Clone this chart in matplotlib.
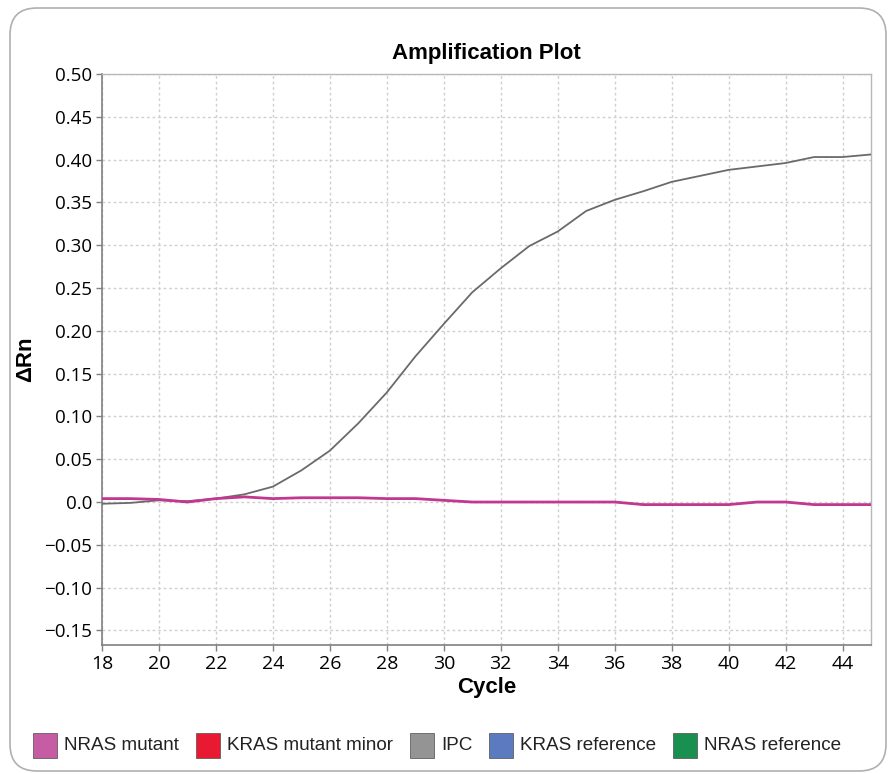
import matplotlib
matplotlib.use("Agg")
import matplotlib.pyplot as plt
from matplotlib.patches import FancyBboxPatch, Rectangle

cycles = list(range(18, 46))
ipc = [-0.002, -0.001, 0.002, 0.001, 0.004, 0.009, 0.018, 0.037, 0.060, 0.092,
       0.128, 0.170, 0.208, 0.245, 0.273, 0.299, 0.316, 0.340, 0.353, 0.363,
       0.374, 0.381, 0.388, 0.392, 0.396, 0.403, 0.403, 0.406]
nras_mutant = [0.004, 0.004, 0.003, 0.000, 0.004, 0.006, 0.004, 0.005, 0.005, 0.005,
               0.004, 0.004, 0.002, 0.000, 0.000, 0.000, 0.000, 0.000, 0.000, -0.003,
               -0.003, -0.003, -0.003, 0.000, 0.000, -0.003, -0.003, -0.003]

xticks = list(range(18, 46, 2))
yticks = [0.50, 0.45, 0.40, 0.35, 0.30, 0.25, 0.20, 0.15, 0.10, 0.05, 0.0, -0.05, -0.10, -0.15]
ytick_labels = ["0.50", "0.45", "0.40", "0.35", "0.30", "0.25", "0.20", "0.15", "0.10",
                "0.05", "0.0", "\u22120.05", "\u22120.10", "\u22120.15"]

legend_names = ["NRAS mutant", "KRAS mutant minor", "IPC", "KRAS reference", "NRAS reference"]
legend_colors = ["#C04A9A", "#E8001C", "#888888", "#4A6CB8", "#00843D"]

W, H = 896, 774
fig = plt.figure(figsize=(W / 100, H / 100), dpi=100)
fig.patch.set_facecolor("white")

# rounded frame
frame = FancyBboxPatch((10 / W, 3 / H), 876 / W, 763 / H,
                       boxstyle="round,pad=0,rounding_size=0.03",
                       transform=fig.transFigure, facecolor="none",
                       edgecolor="#b0b0b0", linewidth=1.2, mutation_aspect=W / H)
fig.patches.append(frame)

ax = fig.add_axes([102 / W, 1 - 645 / H, 769 / W, 571 / H])
ax.set_xlim(18, 45)
ax.set_ylim(-0.167, 0.5)

ax.plot(cycles, ipc, color="#6a6a6a", linewidth=1.3, zorder=3)
ax.plot(cycles, nras_mutant, color="#C2378F", linewidth=2.0, zorder=4)

ax.set_xticks(xticks)
ax.set_xticklabels([str(t) for t in xticks], fontfamily="Open Sans", fontsize=14)
ax.set_yticks(yticks)
ax.set_yticklabels(ytick_labels, fontfamily="Open Sans", fontsize=13.5)
ax.tick_params(axis="both", direction="out", length=4, width=1, color="#808080", pad=3)

ax.grid(True, color="#d0d0d0", linestyle=(0, (2, 2)), linewidth=1)
for side in ["left", "bottom"]:
    ax.spines[side].set_color("#808080")
    ax.spines[side].set_linewidth(1.2)
for side in ["top", "right"]:
    ax.spines[side].set_color("#b8b8b8")
    ax.spines[side].set_linewidth(1.0)

ax.set_title("Amplification Plot", fontfamily="Liberation Sans", fontweight="bold",
             fontsize=16, pad=11)
ax.set_xlabel("Cycle", fontfamily="Liberation Sans", fontweight="bold", fontsize=16, labelpad=3)
ax.set_ylabel("\u0394Rn", fontfamily="Liberation Sans", fontweight="bold", fontsize=16, labelpad=6)

# legend drawn manually in a row
fig.canvas.draw()
renderer = fig.canvas.get_renderer()
x = 33
yc = 746
sq = 24
for name, col in zip(legend_names, legend_colors):
    fig.patches.append(Rectangle((x / W, 1 - (yc + sq / 2) / H), sq / W, (sq + 1) / H,
                                 transform=fig.transFigure, facecolor=col,
                                 edgecolor="#555555", linewidth=0.6, alpha=0.9))
    t = fig.text((x + sq + 7) / W, 1 - yc / H, name, fontfamily="Liberation Sans",
                 fontsize=13.6, va="center", ha="left", color="#222222")
    bb = t.get_window_extent(renderer)
    x = x + sq + 7 + bb.width + 17

fig.savefig("out.png", dpi=100)
